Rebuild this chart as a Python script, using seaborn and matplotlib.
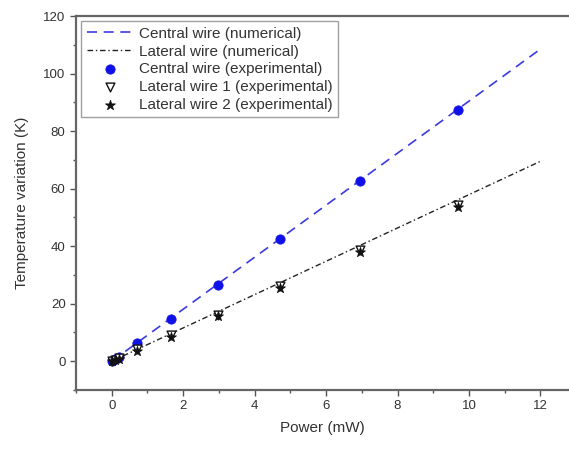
import seaborn as sns
import pandas as pd
import matplotlib.pyplot as plt
from matplotlib.ticker import MultipleLocator

# experimental points
power_exp = [0.0, 0.1, 0.2, 0.72, 1.65, 2.97, 4.7, 6.95, 9.7]
central_exp = [0.0, 0.8, 1.5, 6.3, 14.7, 26.5, 42.5, 62.8, 87.3]
lateral1_exp = [0.0, 0.5, 1.0, 4.2, 9.0, 16.2, 26.0, 38.5, 54.2]
lateral2_exp = [0.0, 0.4, 0.9, 3.6, 8.6, 15.8, 25.6, 38.0, 53.6]

# numerical lines
power_num = [0.0, 12.0]
central_num = [0.0, 108.5]
lateral_num = [0.0, 69.5]

sns.set_theme(style="ticks")
plt.rcParams['font.family'] = ['Liberation Sans', 'DejaVu Sans']
txt = "#333333"


def main():
    fig = plt.figure(figsize=(5.69, 4.5), dpi=100)
    ax = fig.add_axes([0.1336, 0.1333, 0.8664, 0.8311])

    num = pd.DataFrame({"p": power_num, "c": central_num, "l": lateral_num})
    exp = pd.DataFrame({"p": power_exp, "c": central_exp,
                        "l1": lateral1_exp, "l2": lateral2_exp})

    sns.lineplot(data=num, x="p", y="c", ax=ax, color="#3a3ae0", lw=1.2,
                 linestyle=(0, (6, 4)), label="Central wire (numerical)")
    sns.lineplot(data=num, x="p", y="l", ax=ax, color="#222222", lw=1.0,
                 linestyle=(0, (4, 2, 1, 2)), label="Lateral wire (numerical)")
    sns.scatterplot(data=exp, x="p", y="c", ax=ax, color="#1010e8", s=45,
                    marker="o", edgecolor="#1010e8", label="Central wire (experimental)", zorder=3)
    sns.scatterplot(data=exp, x="p", y="l1", ax=ax, s=40, marker="v",
                    facecolor="white", edgecolor="#111111", linewidth=1.0,
                    label="Lateral wire 1 (experimental)", zorder=3)
    sns.scatterplot(data=exp, x="p", y="l2", ax=ax, color="#111111", s=55,
                    marker="*", edgecolor="#111111", label="Lateral wire 2 (experimental)", zorder=4)

    ax.set_xlim(-1, 12.8)
    ax.set_ylim(-10, 120)
    ax.xaxis.set_major_locator(MultipleLocator(2))
    ax.xaxis.set_minor_locator(MultipleLocator(1))
    ax.yaxis.set_major_locator(MultipleLocator(20))
    ax.yaxis.set_minor_locator(MultipleLocator(10))
    ax.tick_params(which="major", length=4, width=1, color="#555555",
                   labelsize=9.5, labelcolor=txt)
    ax.tick_params(which="minor", length=2, width=1, color="#555555")
    for side in ["left", "bottom", "top"]:
        ax.spines[side].set_color("#666666")
        ax.spines[side].set_linewidth(1.6)
    ax.spines["right"].set_visible(False)
    ax.set_xlabel("Power (mW)", fontsize=11, color=txt, labelpad=6)
    ax.set_ylabel("Temperature variation (K)", fontsize=11, color=txt, labelpad=10)

    leg = ax.legend(loc="upper left", fontsize=11, frameon=True, fancybox=False,
                    edgecolor="#888888", borderpad=0.35, labelspacing=0.25,
                    handlelength=3.0, handletextpad=0.4, borderaxespad=0.35)
    for t in leg.get_texts():
        t.set_color(txt)

    fig.savefig("out.png", dpi=100)


if __name__ == "__main__":
    main()
